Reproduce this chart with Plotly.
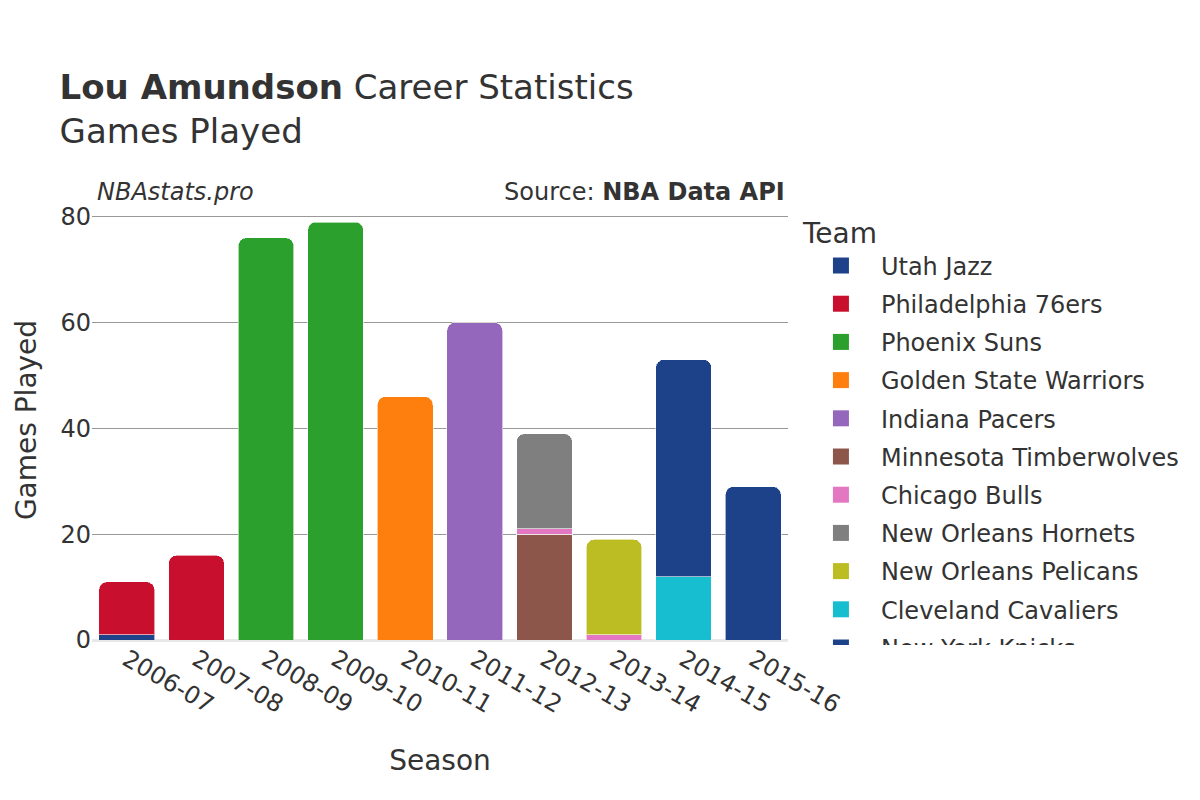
import plotly.graph_objects as go

seasons = ["2006-07", "2007-08", "2008-09", "2009-10", "2010-11",
           "2011-12", "2012-13", "2013-14", "2014-15", "2015-16"]

teams = ["Utah Jazz", "Philadelphia 76ers", "Phoenix Suns", "Golden State Warriors",
         "Indiana Pacers", "Minnesota Timberwolves", "Chicago Bulls",
         "New Orleans Hornets", "New Orleans Pelicans", "Cleveland Cavaliers",
         "New York Knicks"]

team_colors = ["#1d428a", "#c8102e", "#2ca02c", "#ff7f0e", "#9467bd", "#8c564b",
               "#e377c2", "#7f7f7f", "#bcbd22", "#17becf", "#1d428a"]

utah_jazz = [1, None, None, None, None, None, None, None, None, None]
philadelphia_76ers = [10, 16, None, None, None, None, None, None, None, None]
phoenix_suns = [None, None, 76, 79, None, None, None, None, None, None]
golden_state_warriors = [None, None, None, None, 46, None, None, None, None, None]
indiana_pacers = [None, None, None, None, None, 60, None, None, None, None]
minnesota_timberwolves = [None, None, None, None, None, None, 20, None, None, None]
chicago_bulls = [None, None, None, None, None, None, 1, 1, None, None]
new_orleans_hornets = [None, None, None, None, None, None, 18, None, None, None]
new_orleans_pelicans = [None, None, None, None, None, None, None, 18, None, None]
cleveland_cavaliers = [None, None, None, None, None, None, None, None, 12, None]
new_york_knicks = [None, None, None, None, None, None, None, None, 41, 29]

team_values = [utah_jazz, philadelphia_76ers, phoenix_suns, golden_state_warriors,
               indiana_pacers, minnesota_timberwolves, chicago_bulls,
               new_orleans_hornets, new_orleans_pelicans, cleveland_cavaliers,
               new_york_knicks]

FONT = "DejaVu Sans"
TXT = "#333333"

fig = go.Figure()
for name, vals, col in zip(teams, team_values, team_colors):
    fig.add_trace(go.Bar(
        x=seasons, y=vals, name=name, legendgroup=name, showlegend=False,
        marker=dict(color=col, line=dict(color="rgba(255,255,255,0.6)", width=1)),
    ))
# legend proxies (no data) so legend swatches are larger
for name, col in zip(teams, team_colors):
    fig.add_trace(go.Scatter(
        x=[None], y=[None], name=name, legendgroup=name, mode="markers",
        marker=dict(symbol="square", size=22, color=col),
        hoverinfo="skip",
    ))

fig.update_layout(
    width=1200, height=800,
    barmode="stack",
    bargap=0.2,
    barcornerradius=8,
    plot_bgcolor="white",
    paper_bgcolor="white",
    font=dict(family=FONT, color=TXT, size=24),
    margin=dict(l=84, r=420, t=192, b=168, autoexpand=False),
    title=dict(
        text="<b>Lou Amundson</b> Career Statistics<br>Games Played",
        x=0.043, xanchor="left", y=0.886, yanchor="top",
        font=dict(family=FONT, size=34, color=TXT),
    ),
    xaxis=dict(
        type="category",
        title=dict(text="Season", font=dict(size=28), standoff=32),
        tickangle=30,
        tickfont=dict(size=24),
        showgrid=False,
        automargin=False,
    ),
    yaxis=dict(
        title=dict(text="Games Played", font=dict(size=28)),
        tickfont=dict(size=24),
        showgrid=True, gridcolor="#999999", gridwidth=1,
        zeroline=True, zerolinecolor="#e8e8e8", zerolinewidth=3,
        tickvals=[0, 20, 40, 60, 80],
        automargin=False,
    ),
    legend=dict(
        title=dict(text="Team", font=dict(size=28)),
        font=dict(size=24),
        x=0.9683, xanchor="left", y=1.0636, yanchor="top",
        itemwidth=70,
        tracegroupgap=4,
        borderwidth=35, bordercolor="rgba(255,255,255,0)",
        bgcolor="rgba(255,255,255,0)",
        maxheight=508,
    ),
    annotations=[
        dict(text="<i>NBAstats.pro</i>", xref="paper", yref="paper",
             x=0.004, y=1.0, xanchor="left", yanchor="bottom", yshift=-8,
             showarrow=False, font=dict(size=24, color=TXT, family=FONT)),
        dict(text="Source: <b>NBA Data API</b>", xref="paper", yref="paper",
             x=0.998, y=1.0, xanchor="right", yanchor="bottom", yshift=-8,
             showarrow=False, font=dict(size=24, color=TXT, family=FONT)),
    ],
)

fig.write_html("out.html")
